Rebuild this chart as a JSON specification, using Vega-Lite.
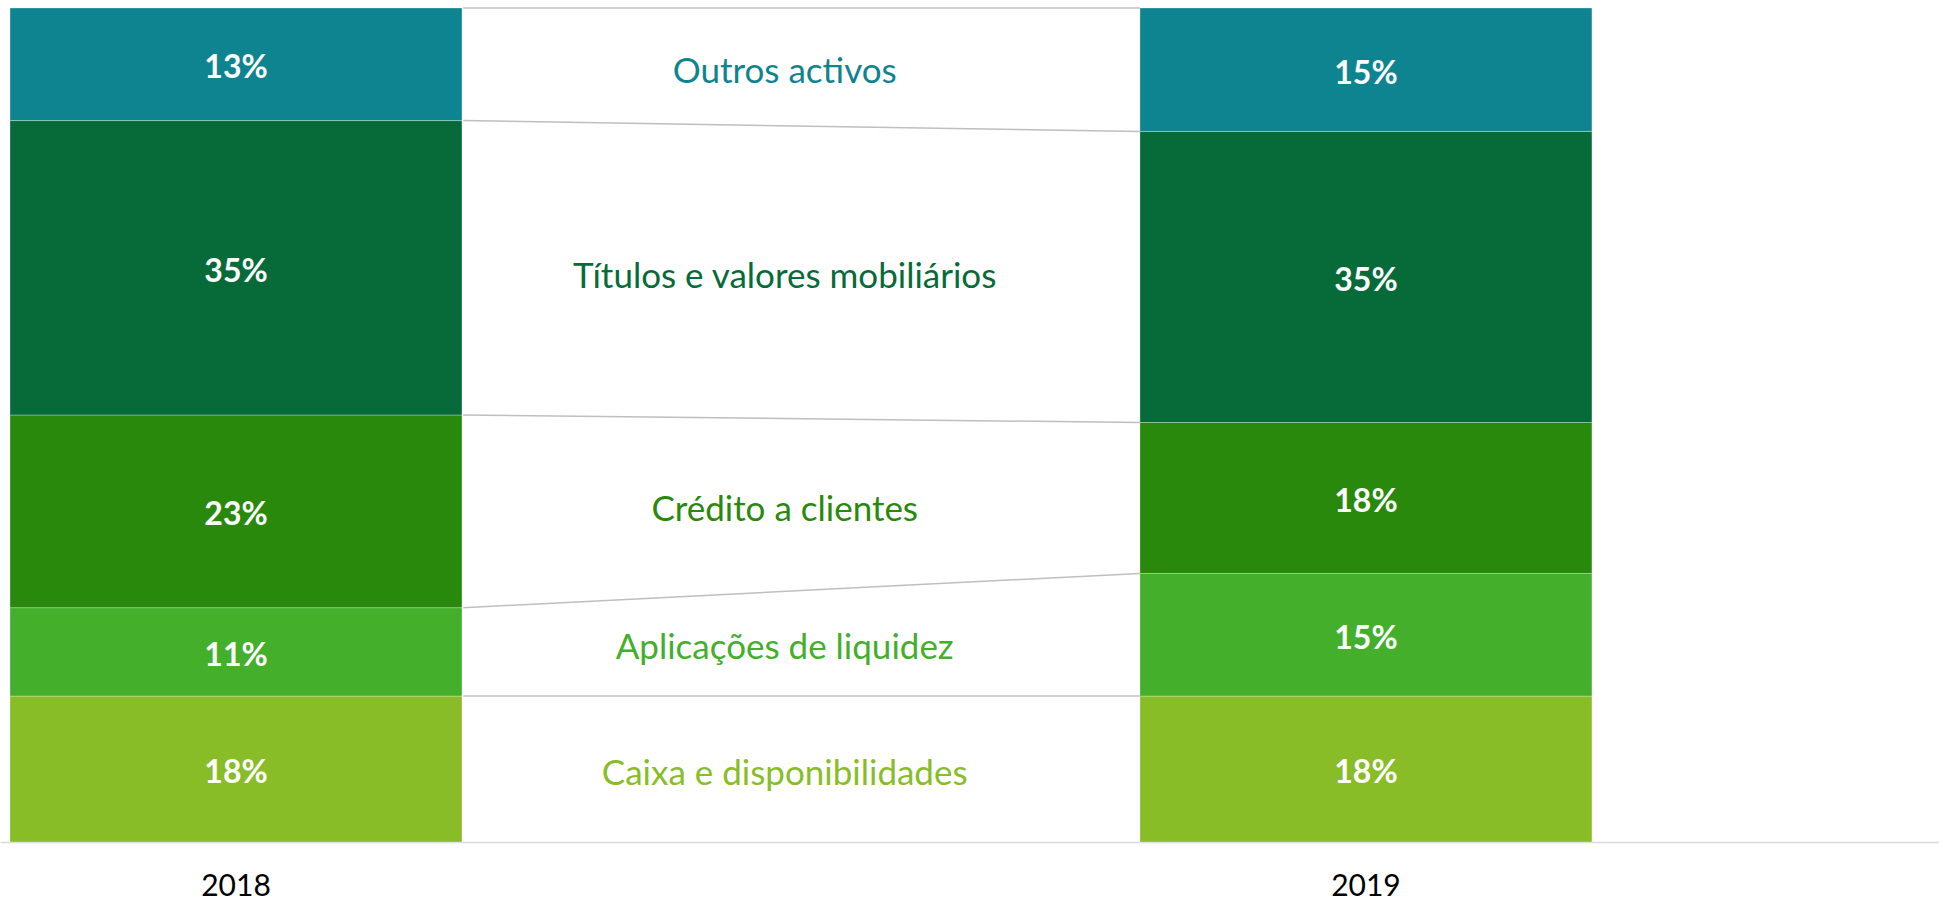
{
  "$schema": "https://vega.github.io/schema/vega-lite/v6.json",
  "width": 1939,
  "height": 834,
  "autosize": {"type": "none"},
  "padding": {"top": 8, "left": 0, "right": 0, "bottom": 58},
  "background": "white",
  "config": {"view": {"stroke": null}, "font": "Lato"},
  "data": {
    "values": [
      {"year": "2018", "category": "Caixa e disponibilidades", "rank": 1, "value": 17.5, "label": "18%"},
      {"year": "2018", "category": "Aplicações de liquidez", "rank": 2, "value": 10.6, "label": "11%"},
      {"year": "2018", "category": "Crédito a clientes", "rank": 3, "value": 23.1, "label": "23%"},
      {"year": "2018", "category": "Títulos e valores mobiliários", "rank": 4, "value": 35.3, "label": "35%"},
      {"year": "2018", "category": "Outros activos", "rank": 5, "value": 13.5, "label": "13%"},
      {"year": "2019", "category": "Caixa e disponibilidades", "rank": 1, "value": 17.5, "label": "18%"},
      {"year": "2019", "category": "Aplicações de liquidez", "rank": 2, "value": 14.7, "label": "15%"},
      {"year": "2019", "category": "Crédito a clientes", "rank": 3, "value": 18.1, "label": "18%"},
      {"year": "2019", "category": "Títulos e valores mobiliários", "rank": 4, "value": 34.9, "label": "35%"},
      {"year": "2019", "category": "Outros activos", "rank": 5, "value": 14.8, "label": "15%"}
    ]
  },
  "transform": [
    {"stack": "value", "groupby": ["year"], "sort": [{"field": "rank", "order": "ascending"}], "offset": "normalize", "as": ["y0", "y1"]},
    {"calculate": "(datum.y0 + datum.y1) / 2", "as": "mid"}
  ],
  "resolve": {"scale": {"x": "independent"}},
  "layer": [
    {
      "mark": {"type": "line", "color": "#BFBFBF", "strokeWidth": 1.5},
      "encoding": {
        "x": {"field": "year", "type": "nominal", "scale": {"type": "point", "domain": ["2018", "2019"], "padding": 0.932, "align": 0.367}, "axis": null},
        "y": {"field": "y1", "type": "quantitative", "scale": {"domain": [0, 1], "nice": false, "zero": true}, "axis": null},
        "detail": {"field": "category"}
      }
    },
    {
      "layer": [
        {
          "mark": {"type": "bar", "stroke": "#ffffff", "strokeWidth": 0.6, "strokeOpacity": 0.5},
          "encoding": {
            "x": {
              "field": "year",
              "type": "nominal",
              "scale": {"domain": ["2018", "2019"], "paddingInner": 0.6, "paddingOuter": 0.158, "align": 0.028},
              "axis": {
                "title": null,
                "labelAngle": 0,
                "ticks": false,
                "domainColor": "#D9D9D9",
                "domainWidth": 1.5,
                "labelFont": "Lato",
                "labelFontSize": 30,
                "labelColor": "#000000",
                "labelPadding": 29
              }
            },
            "y": {"field": "y0", "type": "quantitative", "scale": {"domain": [0, 1], "nice": false, "zero": true}, "axis": null},
            "y2": {"field": "y1"},
            "color": {
              "field": "category",
              "type": "nominal",
              "scale": {
                "domain": ["Caixa e disponibilidades", "Aplicações de liquidez", "Crédito a clientes", "Títulos e valores mobiliários", "Outros activos"],
                "range": ["#89BD28", "#43AF2B", "#28890C", "#066B39", "#0E8490"]
              },
              "legend": null
            }
          }
        },
        {
          "mark": {"type": "text", "color": "#ffffff", "fontWeight": "bold", "fontSize": 32, "font": "Lato", "baseline": "middle", "align": "center", "dy": 4},
          "encoding": {
            "x": {"field": "year", "type": "nominal"},
            "y": {"field": "mid", "type": "quantitative"},
            "text": {"field": "label"}
          }
        },
        {
          "transform": [
            {"joinaggregate": [{"op": "mean", "field": "mid", "as": "midavg"}], "groupby": ["category"]},
            {"filter": "datum.year == '2018'"}
          ],
          "mark": {"type": "text", "fontSize": 35, "font": "Lato", "baseline": "middle", "align": "center", "dy": 5},
          "encoding": {
            "x": {"field": "year", "type": "nominal", "bandPosition": 1.714},
            "y": {"field": "midavg", "type": "quantitative"},
            "text": {"field": "category"},
            "color": {"field": "category", "type": "nominal"}
          }
        }
      ]
    }
  ]
}
